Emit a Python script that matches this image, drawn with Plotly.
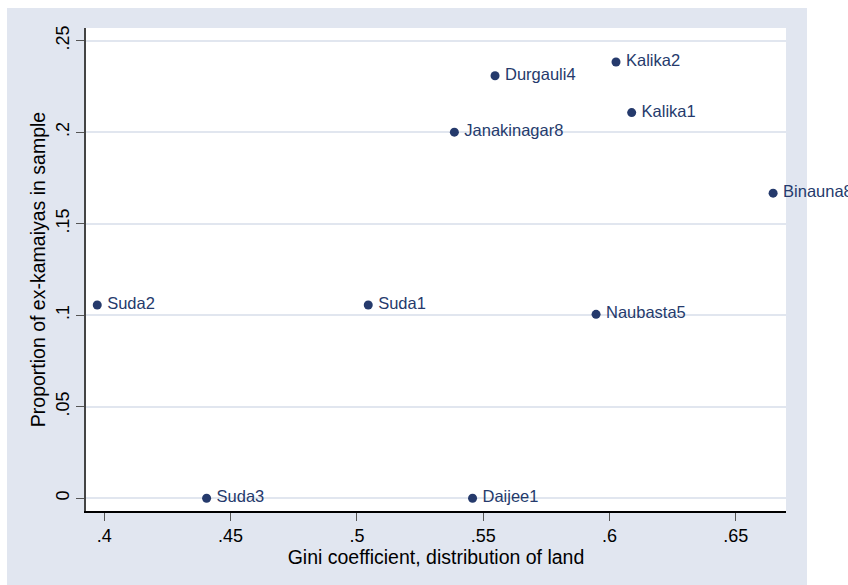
import plotly.graph_objects as go

# Village-level data: land Gini vs share of ex-kamaiyas in the sample
villages = ["Suda2", "Suda1", "Suda3", "Daijee1", "Janakinagar8", "Durgauli4",
            "Kalika2", "Kalika1", "Naubasta5", "Binauna8"]
gini_land = [0.3972, 0.5045, 0.4405, 0.5458, 0.5386, 0.5547,
             0.6026, 0.6088, 0.5947, 0.6648]
share_ex_kamaiya = [0.1056, 0.1056, 0.0, 0.0, 0.2, 0.2308,
                    0.2383, 0.2107, 0.1005, 0.1667]

x_ticks = [0.40, 0.45, 0.50, 0.55, 0.60, 0.65]
x_tick_text = [".4", ".45", ".5", ".55", ".6", ".65"]
y_ticks = [0.0, 0.05, 0.10, 0.15, 0.20, 0.25]
y_tick_text = ["0", ".05", ".1", ".15", ".2", ".25"]

NAVY = "#253A6C"
REGION_BG = "#E1E6F0"
GRID = "#E1E6EF"
FONT = "Arial, Liberation Sans, sans-serif"

fig = go.Figure(
    go.Scatter(
        x=gini_land,
        y=share_ex_kamaiya,
        mode="markers+text",
        text=villages,
        texttemplate="\u2009%{text}",
        textposition="middle right",
        textfont=dict(family=FONT, size=16.5, color=NAVY),
        marker=dict(size=9, color=NAVY),
        cliponaxis=False,
        hoverinfo="skip",
    )
)

W, H = 848, 585
L, R, T, B = 86, 62, 28, 74
pw, ph = W - L - R, H - T - B

# light graph region behind the white plot region
fig.add_shape(type="rect", xref="paper", yref="paper",
              x0=(7 - L) / pw, x1=(807 - L) / pw,
              y0=-(B + 5) / ph, y1=(ph + T - 8) / ph,
              fillcolor=REGION_BG, line_width=0, layer="below")
fig.add_shape(type="rect", xref="paper", yref="paper",
              x0=0, x1=1, y0=0, y1=1,
              fillcolor="white", line_width=0, layer="below")

fig.update_layout(
    width=W, height=H, autosize=False,
    margin=dict(l=L, r=R, t=T, b=B, pad=0),
    paper_bgcolor="white",
    plot_bgcolor="white",
    showlegend=False,
    font=dict(family=FONT, color="black"),
    xaxis=dict(
        range=[0.39275, 0.6699],
        tickvals=x_ticks, ticktext=x_tick_text,
        showgrid=False, zeroline=False,
        showline=True, linecolor="black", linewidth=1.5,
        ticks="outside", ticklen=8, tickcolor="#555555", tickwidth=1.2,
        tickfont=dict(size=18),
        title=dict(text="Gini coefficient, distribution of land",
                   font=dict(size=19.5), standoff=0),
    ),
    yaxis=dict(
        range=[-0.00694, 0.2569],
        tickvals=y_ticks, ticktext=y_tick_text,
        tickangle=-90,
        showgrid=True, gridcolor=GRID, gridwidth=1.5,
        zeroline=False,
        showline=True, linecolor="#444444", linewidth=1.5,
        ticks="outside", ticklen=8, tickcolor="#555555", tickwidth=1.2,
        tickfont=dict(size=18),
        title=dict(text="Proportion of ex-kamaiyas in sample",
                   font=dict(size=19.5), standoff=2),
    ),
)

fig.write_html("out.html")
